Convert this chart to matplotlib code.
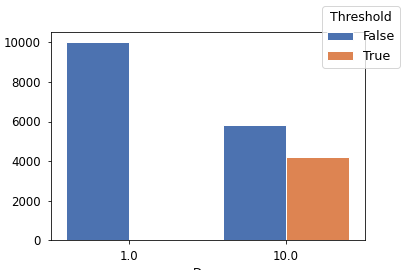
import matplotlib
matplotlib.use("Agg")
import matplotlib.pyplot as plt
import numpy as np

categories = ["1.0", "10.0"]
hue_levels = ["False", "True"]
counts_false = [10000, 5800]
counts_true = [0, 4200]
colors = ["#4C72B0", "#DD8452"]
xlabel = "Dose"

plt.rcParams["font.size"] = 11.7
plt.rcParams["xtick.major.pad"] = 6
plt.rcParams["ytick.major.pad"] = 6.5

fig = plt.figure(figsize=(5.625, 3.75), dpi=72)
ax = fig.add_axes([0.125, 0.11, 0.775, 0.77])

x = np.arange(len(categories))
w = 0.4
series = [counts_false, counts_true]
for i, (vals, col, lab) in enumerate(zip(series, colors, hue_levels)):
    offs = x - 0.2 + i * w
    ax.bar(offs, vals, width=w, color=col, edgecolor="white", linewidth=1, label=lab)

ax.set_xticks(x)
ax.set_xticklabels(categories)
ax.set_xlim(-0.5, 1.5)
ax.set_ylim(0, 10500)
ax.set_yticks([0, 2000, 4000, 6000, 8000, 10000])
ax.set_xlabel(xlabel)

ax.legend(title="Threshold", loc="upper right",
          bbox_to_anchor=(400 / 405, 1 - 6 / 270),
          bbox_transform=fig.transFigure, borderaxespad=0,
          fontsize=12.7, title_fontsize=12.5, handlelength=2.0)

fig.savefig("out.png", dpi=72)
